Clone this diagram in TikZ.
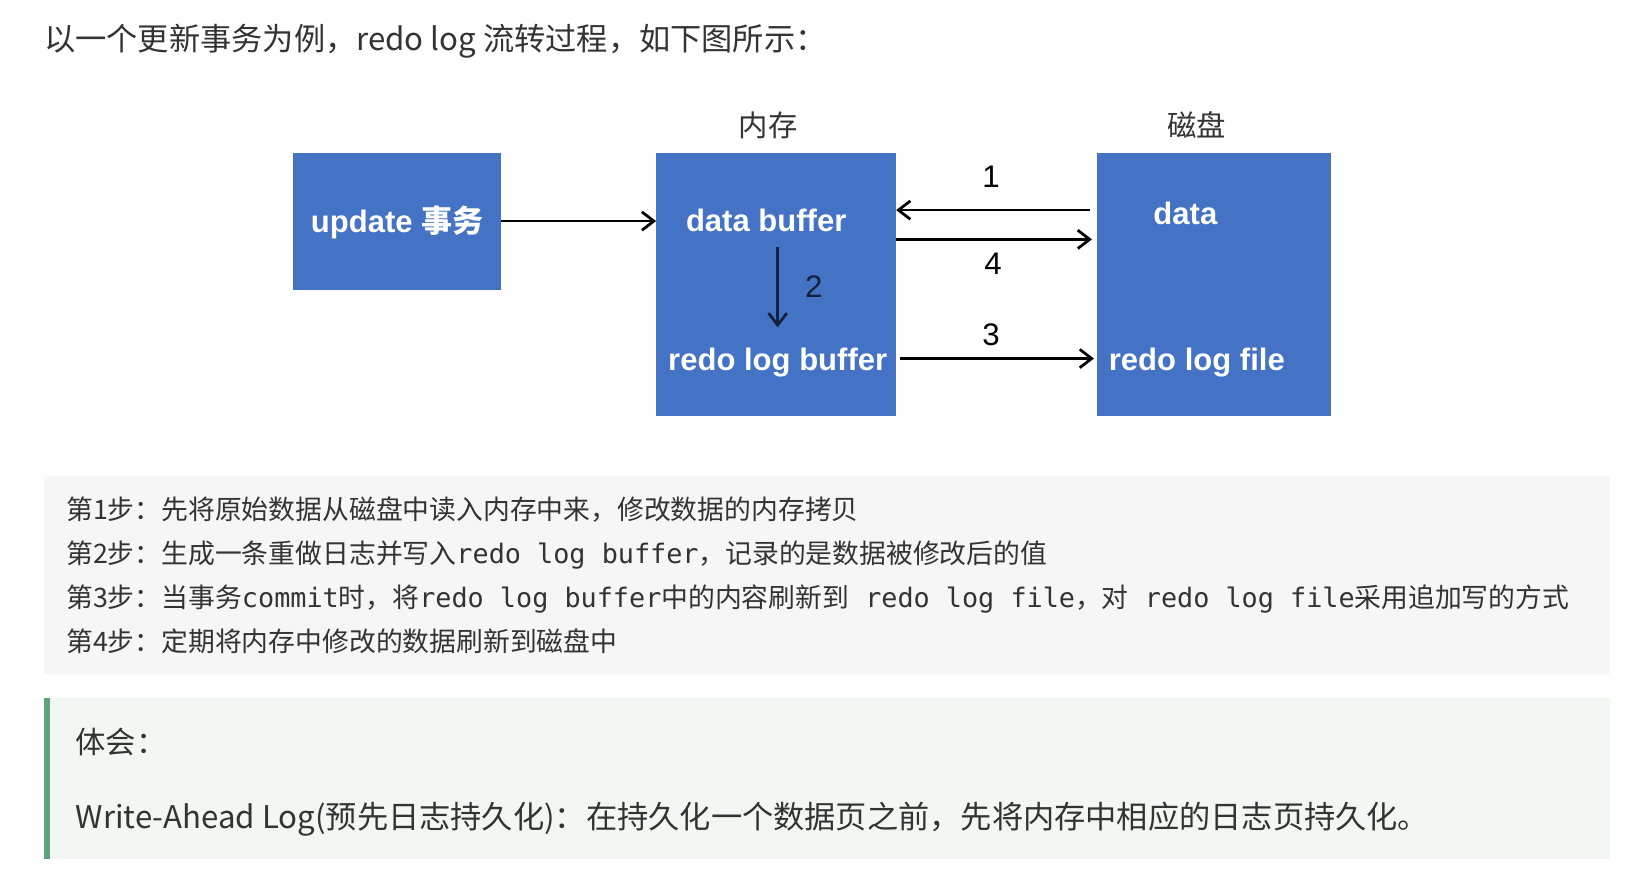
\documentclass[tikz,border=0pt]{standalone}
\usepackage{fontspec}
\setmainfont{Liberation Sans}
\newfontfamily\cjk{Noto Sans CJK SC}
\newfontfamily\codefont{DejaVu Sans Mono}
\usetikzlibrary{arrows.meta,positioning}

\definecolor{boxblue}{HTML}{4472C4}
\definecolor{stepnavy}{HTML}{14213D}
\definecolor{notegray}{HTML}{F6F6F6}
\definecolor{tipgreen}{HTML}{F2F7F4}
\definecolor{tipbar}{HTML}{5FA27C}
\definecolor{inktext}{HTML}{333333}

\begin{document}
\begin{tikzpicture}[x=0.02cm, y=-0.02cm,
    blockbox/.style={fill=boxblue, draw=none, inner sep=0pt},
    boxtext/.style={text=white, inner sep=0pt, anchor=base,
        font=\fontsize{16.9}{20}\selectfont\bfseries},
    headlbl/.style={text=inktext, inner sep=0pt, font=\cjk\fontsize{16}{19}\selectfont},
    numlbl/.style={inner sep=0pt, font=\fontsize{17}{20}\selectfont},
    flow/.style={-{Straight Barb[length=6.5pt,width=10pt]}, line width=1.5pt},
    plaintext/.style={text=inktext, inner sep=0pt, anchor=base west}]

    \useasboundingbox (0,0) rectangle (1568,831.3);
    \fill[white] (0,0) rectangle (1568,831.3);

    %% Heading line
    \node[plaintext, font=\cjk\fontsize{17}{20}\selectfont] (title) at (42,48)
        {以一个更新事务为例，redo log 流转过程，如下图所示：};

    %% Diagram
    % Transaction
    \node[blockbox, minimum width=3.98cm, minimum height=2.62cm] (upd) at (379.5,211.5) {};
    \node[boxtext] (updtxt) at (380,222) {update {\cjk 事务}};

    % Memory
    \node[blockbox, minimum width=4.58cm, minimum height=5.04cm] (mem) at (742.5,272) {};
    \node[headlbl] (memlbl) at (735,120) {内存};
    \node[boxtext] (dbuf) at (733,221) {data buffer};
    \node[boxtext] (rbuf) at (744,354) {redo log buffer};

    % Disk
    \node[blockbox, minimum width=4.48cm, minimum height=5.04cm] (disk) at (1161,272) {};
    \node[headlbl] (disklbl) at (1145,120) {磁盘};
    \node[boxtext] (ddata) at (1134,215) {data};
    \node[boxtext] (rfile) at (1145,354) {redo log file};

    % Arrows
    \draw[flow] (upd.east) -- (mem.west |- upd.east);
    \draw[flow, shorten <=3.4pt] (disk.west |- 0,201) -- (mem.east |- 0,201)
        node[numlbl, midway, above=0.4cm, xshift=-0.1cm] {1};
    \draw[flow, stepnavy, shorten <=8.5pt, shorten >=10.8pt] (rbuf.north |- dbuf.south) -- (rbuf.north)
        node[numlbl, text=stepnavy, midway, right=0.5cm, yshift=0.06cm] {2};
    \draw[flow, shorten <=2.3pt, shorten >=1.2pt] (mem.east |- 0,343) -- (disk.west |- 0,343)
        node[numlbl, midway, above=0.22cm, xshift=-0.1cm] {3};
    \draw[flow, shorten >=2.3pt] (mem.east |- 0,229) -- (disk.west |- 0,229)
        node[numlbl, midway, below=0.24cm, xshift=-0.06cm] {4};

    %% Steps
    \fill[notegray] (42,455) rectangle (1540,645);
    \begin{scope}[font=\cjk\fontsize{14.6}{18}\selectfont]
        \node[plaintext] (step1) at (63,497) {第1步：先将原始数据从磁盘中读入内存中来，修改数据的内存拷贝};
        \node[plaintext] (step2) at (63,539) {第2步：生成一条重做日志并写入{\codefont redo log buffer}，记录的是数据被修改后的值};
        \node[plaintext] (step3) at (63,581) {第3步：当事务{\codefont commit}时，将{\codefont redo log buffer}中的内容刷新到{\codefont\ redo log file}，对{\codefont\ redo log file}采用追加写的方式};
        \node[plaintext] (step4) at (63,623) {第4步：定期将内存中修改的数据刷新到磁盘中};
    \end{scope}

    %% Tip
    \fill[tipgreen] (42,668) rectangle (1540,822);
    \fill[tipbar] (42,668) rectangle (48,822);
    \node[plaintext, font=\cjk\fontsize{16.5}{20}\selectfont] (tiphead) at (72,721) {体会：};
    \node[plaintext, font=\cjk\fontsize{17}{20}\selectfont] (tipbody) at (72,793)
        {Write-Ahead Log(预先日志持久化)：在持久化一个数据页之前，先将内存中相应的日志页持久化。};

\end{tikzpicture}
\end{document}
